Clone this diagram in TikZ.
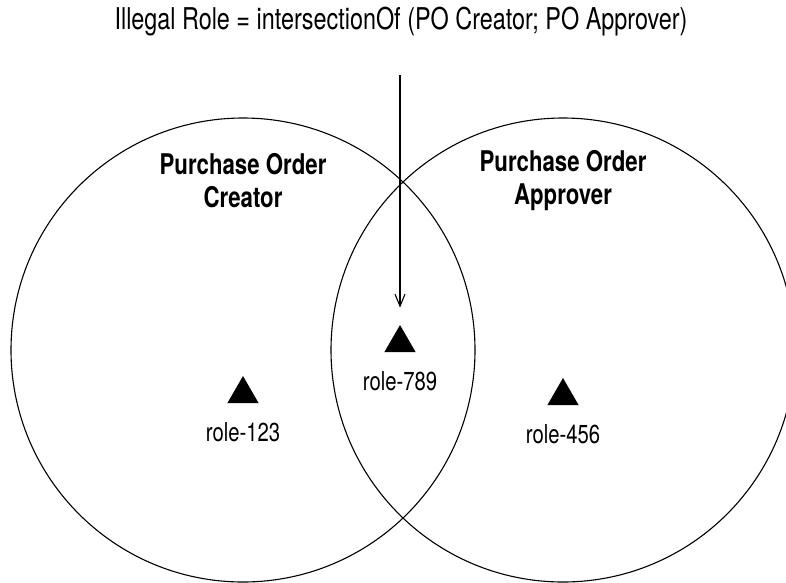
\documentclass[tikz,border=0pt]{standalone}
\usepackage{fontspec}
\setmainfont{TeX Gyre Heros}[FakeStretch=0.78]
\usetikzlibrary{arrows.meta}
\usetikzlibrary{shapes.geometric}

\tikzset{
  setcircle/.style={draw,circle,line width=1.1pt,minimum size=464pt,inner sep=0pt},
  roletri/.style={regular polygon,regular polygon sides=3,fill=black,
                  minimum size=36pt,inner sep=0pt},
  rolelabel/.style={inner sep=0pt,font=\fontsize{26}{28}\selectfont},
  settitle/.style={align=center,inner sep=0pt,
                   font=\fontsize{28.5}{33}\selectfont\bfseries},
}

\begin{document}
\begin{tikzpicture}[x=1pt,y=-1pt]
    \useasboundingbox (0,0) rectangle (786,582);
    \clip (0,0) rectangle (786,582);
    % the two role sets
    \node[setcircle] (creator) at (243,350) {};
    \node[setcircle] (approver) at (563,350) {};
    \node[settitle] (creatortitle) at (243,181) {Purchase Order\\Creator};
    \node[settitle] (approvertitle) at (563,181) {Purchase Order\\Approver};
    % roles
    \foreach \id/\x/\y in {123/243/394, 789/400/343, 456/563/396}{
      \node[roletri] (t\id) at (\x,\y) {};
      \node[rolelabel] (l\id) at (\x,\y+38) {role-\id};
    }
    \node[inner sep=0pt,font=\fontsize{30}{32}\selectfont] (illegal) at (401,22)
      {Illegal Role = intersectionOf (PO Creator; PO Approver)};
    \coordinate (arrowtop) at (400,75);
    \draw[line width=1.1pt,-{Straight Barb[length=12pt,width=10pt]},shorten >=17pt]
      (arrowtop) -- (t789.north);
\end{tikzpicture}
\end{document}
